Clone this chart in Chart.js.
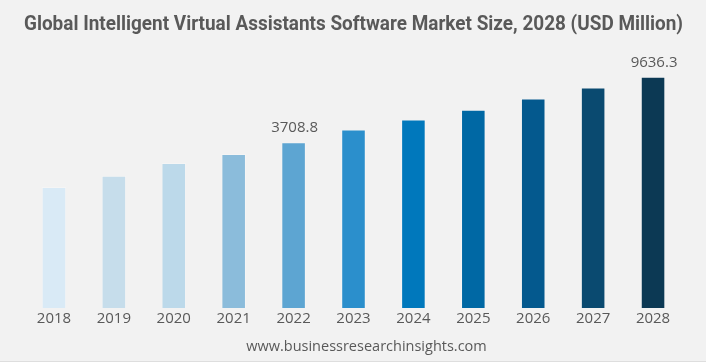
<!DOCTYPE html>
<html>
<head>
<meta charset="utf-8">
<script src="https://cdn.jsdelivr.net/npm/chart.js@4"></script>
<style>
  html, body { margin: 0; padding: 0; background: #f2f2f2; }
  #wrap { width: 706px; height: 361px; border-bottom: 1px solid #dedede; }
</style>
</head>
<body>
<div id="wrap"><canvas id="myChart" width="706" height="361"></canvas></div>
<script>
// data
var years = ["2018", "2019", "2020", "2021", "2022", "2023", "2024", "2025", "2026", "2027", "2028"];
var marketSize = [1926, 2268, 2738, 3118, 3708.8, 4459, 5153, 5955, 7017, 8226, 9636.3];
var labelledYears = ["2022", "2028"];
var sourceText = "www.businessresearchinsights.com";
var barColors = [
  "#d9eaf6",
  "#c6ddeb",
  "#bcd9ea",
  "#8bbcdb",
  "#5da5d2",
  "#2b8fcc",
  "#0078bc",
  "#0068a4",
  "#04598e",
  "#0a4a70",
  "#0c3954"
];

// value labels on a few bars + source line at the bottom
var extraText = {
  id: "extraText",
  afterDatasetsDraw: function (chart) {
    var ctx = chart.ctx;
    var meta = chart.getDatasetMeta(0);
    ctx.save();
    ctx.font = "15px 'Open Sans'";
    ctx.fillStyle = "#595959";
    ctx.textAlign = "center";
    ctx.textBaseline = "alphabetic";
    meta.data.forEach(function (bar, i) {
      if (labelledYears.indexOf(years[i]) < 0) return;
      ctx.fillText(marketSize[i].toFixed(1), bar.x + 1, bar.y - 10);
    });
    ctx.font = "14.5px 'Open Sans'";
    ctx.textBaseline = "middle";
    ctx.fillText(sourceText, 366.5, 347);
    ctx.restore();
  }
};

new Chart("myChart", {
  type: "bar",
  data: {
    labels: years,
    datasets: [{
      data: marketSize,
      backgroundColor: barColors,
      borderColor: "rgba(255,255,255,0.25)",
      borderWidth: 1,
      barPercentage: 0.82,
      categoryPercentage: 0.5
    }]
  },
  options: {
    responsive: false,
    animation: false,
    layout: { padding: { top: 0, left: 24, right: 23, bottom: 31 } },
    plugins: {
      legend: { display: false },
      tooltip: { enabled: false },
      title: {
        display: true,
        text: "Global Intelligent Virtual Assistants Software Market Size, 2028 (USD Million)",
        color: "#595959",
        font: { family: "Roboto", size: 19.3, weight: "bold", lineHeight: 1.2 },
        padding: { top: 14, bottom: 22.8 }
      }
    },
    scales: {
      x: {
        grid: { display: false, drawTicks: false },
        border: { display: false },
        ticks: { color: "#595959", font: { family: "'Open Sans'", size: 15, lineHeight: 1.2 }, padding: 2 }
      },
      y: {
        type: "logarithmic",
        display: false,
        min: 330,
        max: 12300
      }
    }
  },
  plugins: [extraText]
});
</script>
</body>
</html>
